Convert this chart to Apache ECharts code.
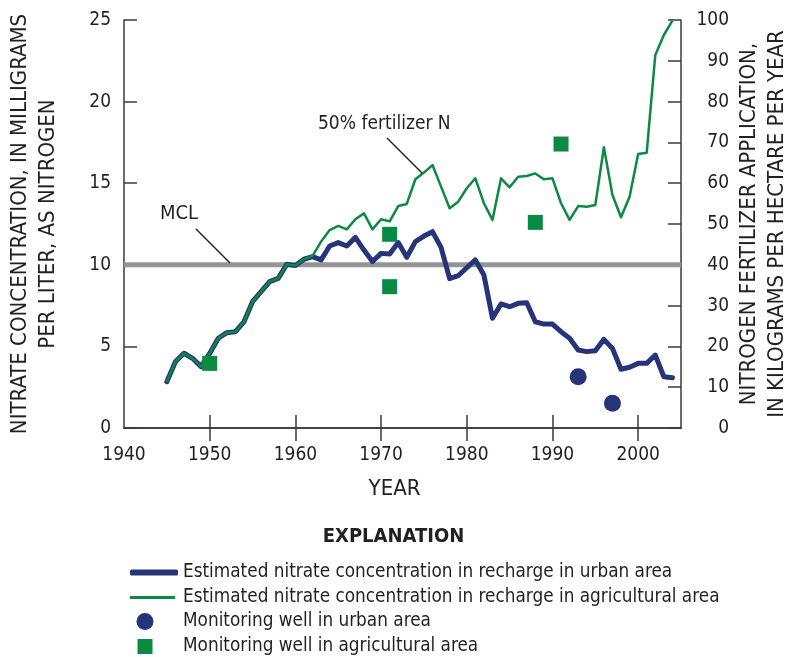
<!DOCTYPE html>
<html>
<head>
<meta charset="utf-8">
<script src="https://cdn.jsdelivr.net/npm/echarts@6/dist/echarts.min.js"></script>
<style>
  html, body { margin: 0; padding: 0; background: #fff; }
  #chart { width: 787px; height: 657px; }
</style>
</head>
<body>
<div id="chart"></div>
<script>
// 年份
const years = [
  1945, 1946, 1947, 1948, 1949, 1950, 1951, 1952, 1953, 1954,
  1955, 1956, 1957, 1958, 1959, 1960, 1961, 1962, 1963, 1964,
  1965, 1966, 1967, 1968, 1969, 1970, 1971, 1972, 1973, 1974,
  1975, 1976, 1977, 1978, 1979, 1980, 1981, 1982, 1983, 1984,
  1985, 1986, 1987, 1988, 1989, 1990, 1991, 1992, 1993, 1994,
  1995, 1996, 1997, 1998, 1999, 2000, 2001, 2002, 2003, 2004
];
// urban recharge, mg/L
const urbanNitrate = [
  2.84, 4.06, 4.58, 4.27, 3.76, 4.57, 5.5, 5.84, 5.9, 6.51,
  7.74, 8.35, 8.97, 9.17, 10.03, 9.95, 10.34, 10.5, 10.3, 11.15,
  11.36, 11.15, 11.68, 10.9, 10.2, 10.7, 10.66, 11.36, 10.46, 11.42,
  11.76, 12.03, 11.07, 9.15, 9.33, 9.82, 10.3, 9.37, 6.72, 7.6,
  7.43, 7.64, 7.68, 6.51, 6.37, 6.37, 5.9, 5.5, 4.78, 4.68,
  4.74, 5.43, 4.88, 3.6, 3.72, 3.96, 3.96, 4.47, 3.14, 3.08
];
// agricultural recharge, mg/L
const agNitrate = [
  2.84, 4.06, 4.58, 4.27, 3.76, 4.57, 5.5, 5.84, 5.9, 6.51,
  7.74, 8.35, 8.97, 9.17, 10.03, 9.95, 10.34, 10.55, 11.42, 12.13,
  12.38, 12.17, 12.79, 13.15, 12.17, 12.79, 12.66, 13.6, 13.73, 15.24,
  15.65, 16.11, 14.79, 13.46, 13.87, 14.69, 15.3, 13.77, 12.75, 15.3,
  14.75, 15.4, 15.44, 15.6, 15.24, 15.3, 13.77, 12.75, 13.6, 13.56,
  13.66, 17.2, 14.28, 12.91, 14.17, 16.79, 16.87, 22.86, 24.08, 24.96
];
// monitoring wells
const urbanWellYears = [1993, 1997];
const urbanWellValues = [3.14, 1.51];
const agWellYears = [1950, 1971, 1971, 1988, 1991];
const agWellValues = [3.96, 11.87, 8.66, 12.6, 17.4];
// MCL
const mclYears = [1940, 2005];
const mclValue = 10;
// inner decade ticks on the year axes
const yearTicks = [1950, 1960, 1970, 1980, 1990, 2000];

const FONT = "'Liberation Sans Narrow', 'DejaVu Sans Condensed', sans-serif";
const TEXT = '#231f20';
const AXIS = '#3a3a3a';
const NAVY = '#263579';
const GREEN = '#0b8a43';

const zip = (xs, ys) => xs.map((x, i) => [x, ys[i]]);

const chart = echarts.init(document.getElementById('chart'));

const legendText = { fontFamily: FONT, fontSize: 18.8, color: TEXT };

const option = {
  animation: false,
  textStyle: { fontFamily: FONT },
  grid: { left: 124, right: 106, top: 20, bottom: 229, containLabel: false, outerBoundsMode: 'none' },
  xAxis: [
    {
      type: 'value',
      min: 1940,
      max: 2005,
      interval: 10,
      name: 'YEAR',
      nameLocation: 'middle',
      nameGap: 50,
      nameTextStyle: { fontFamily: FONT, fontSize: 22, color: TEXT, padding: [0, 16, 0, 0] },
      axisLine: { lineStyle: { color: AXIS, width: 1.5 } },
      axisTick: { inside: true, length: 13, customValues: yearTicks, lineStyle: { color: AXIS, width: 1.5 } },
      axisLabel: { fontFamily: FONT, fontSize: 19, color: TEXT, margin: 18, showMaxLabel: false,
        formatter: v => String(v) },
      splitLine: { show: false }
    },
    {
      type: 'value',
      position: 'top',
      min: 1940,
      max: 2005,
      interval: 10,
      axisLine: { lineStyle: { color: AXIS, width: 1.5 } },
      axisTick: { inside: true, length: 13, customValues: yearTicks, lineStyle: { color: AXIS, width: 1.5 } },
      axisLabel: { show: false },
      splitLine: { show: false }
    }
  ],
  yAxis: [
    {
      type: 'value',
      min: 0,
      max: 25,
      interval: 5,
      name: 'NITRATE CONCENTRATION, IN MILLIGRAMS\nPER LITER, AS NITROGEN',
      nameLocation: 'middle',
      nameRotate: 90,
      nameGap: 62,
      nameTextStyle: { fontFamily: FONT, fontSize: 22, color: TEXT, lineHeight: 28 },
      axisLine: { lineStyle: { color: AXIS, width: 1.5 } },
      axisTick: { inside: true, length: 13, lineStyle: { color: AXIS, width: 1.5 } },
      axisLabel: { fontFamily: FONT, fontSize: 19, color: TEXT, margin: 13 },
      splitLine: { show: false }
    },
    {
      type: 'value',
      position: 'right',
      min: 0,
      max: 100,
      interval: 10,
      name: 'NITROGEN FERTILIZER APPLICATION,\nIN KILOGRAMS PER HECTARE PER YEAR',
      nameLocation: 'middle',
      nameRotate: 90,
      nameGap: 54,
      nameMoveOverlap: false,
      nameTextStyle: { fontFamily: FONT, fontSize: 22, color: TEXT, lineHeight: 28 },
      axisLine: { lineStyle: { color: AXIS, width: 1.5 } },
      axisTick: { inside: true, length: 13, lineStyle: { color: AXIS, width: 1.5 } },
      axisLabel: { fontFamily: FONT, fontSize: 19, color: TEXT, margin: 48, align: 'right' },
      splitLine: { show: false }
    }
  ],
  legend: [
    { orient: 'vertical', left: 125, top: 558, itemWidth: 48, itemHeight: 6, icon: 'roundRect',
      selectedMode: false, textStyle: legendText,
      data: ['Estimated nitrate concentration in recharge in urban area'] },
    { orient: 'vertical', left: 125, top: 583, itemWidth: 45, itemHeight: 3, icon: 'rect',
      selectedMode: false, textStyle: Object.assign({ padding: [0, 0, 0, 3] }, legendText),
      data: ['Estimated nitrate concentration in recharge in agricultural area'] },
    { orient: 'vertical', left: 131.5, top: 607, itemWidth: 17, itemHeight: 17, icon: 'circle',
      selectedMode: false, textStyle: Object.assign({ padding: [0, 0, 0, 24.5] }, legendText),
      data: ['Monitoring well in urban area'] },
    { orient: 'vertical', left: 132.5, top: 632, itemWidth: 15, itemHeight: 15, icon: 'rect',
      selectedMode: false, textStyle: Object.assign({ padding: [0, 0, 0, 25.5] }, legendText),
      data: ['Monitoring well in agricultural area'] }
  ],
  graphic: [
    {
      type: 'text', left: 'center', top: 527,
      style: { text: 'EXPLANATION', font: 'bold 20px ' + FONT, fill: TEXT }
    },
    {
      type: 'text', left: 318, top: 115,
      style: { text: '50% fertilizer N', font: '19px ' + FONT, fill: TEXT }
    },
    {
      type: 'line', z: 10,
      shape: { x1: 387, y1: 138, x2: 422, y2: 173 },
      style: { stroke: '#222', lineWidth: 1.5 }
    },
    {
      type: 'text', left: 160, top: 204,
      style: { text: 'MCL', font: '20px ' + FONT, fill: TEXT }
    },
    {
      type: 'line', z: 10,
      shape: { x1: 196, y1: 229, x2: 230, y2: 263 },
      style: { stroke: '#222', lineWidth: 1.5 }
    }
  ],
  series: [
    {
      name: 'MCL',
      type: 'line',
      z: 1,
      data: mclYears.map(y => [y, mclValue]),
      symbol: 'none',
      silent: true,
      lineStyle: { color: '#959595', width: 5 }
    },
    {
      name: 'Estimated nitrate concentration in recharge in urban area',
      type: 'line',
      z: 2,
      color: NAVY,
      data: zip(years, urbanNitrate),
      symbol: 'none',
      lineStyle: { color: NAVY, width: 5, join: 'round', cap: 'round' }
    },
    {
      name: 'Estimated nitrate concentration in recharge in agricultural area',
      type: 'line',
      z: 3,
      color: GREEN,
      data: zip(years, agNitrate),
      symbol: 'none',
      lineStyle: { color: GREEN, width: 2.5, join: 'round' }
    },
    {
      name: 'Monitoring well in urban area',
      type: 'scatter',
      z: 4,
      color: NAVY,
      symbol: 'circle',
      symbolSize: 17,
      data: zip(urbanWellYears, urbanWellValues),
      itemStyle: { color: NAVY, opacity: 1 }
    },
    {
      name: 'Monitoring well in agricultural area',
      type: 'scatter',
      z: 4,
      color: GREEN,
      symbol: 'rect',
      symbolSize: 15,
      data: zip(agWellYears, agWellValues),
      itemStyle: { color: GREEN, opacity: 1 }
    }
  ]
};

chart.setOption(option);
</script>
</body>
</html>
